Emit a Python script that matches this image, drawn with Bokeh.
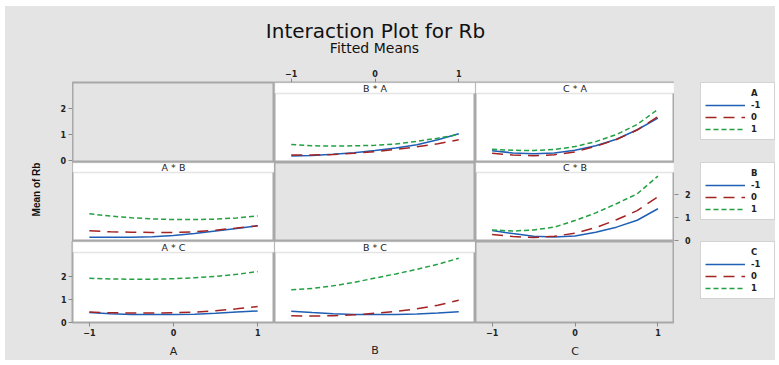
import math
from bokeh.plotting import figure
from bokeh.layouts import row, column
from bokeh.models import (Range1d, LinearAxis, FixedTicker, BoxAnnotation, Label,
                          Legend, LegendItem)
from bokeh.embed import file_html
from bokeh.resources import INLINE

# ---------------- data (fitted means) ----------------
x_levels = [-1, -0.75, -0.5, -0.25, 0, 0.25, 0.5, 0.75, 1]
level_labels = ["-1", "0", "1"]
x_ticks = [-1, 0, 1]
y_ticks = [0, 1, 2]

# B * A  (x = B, traces = levels of A)
ba_a_neg1 = [0.18, 0.20, 0.25, 0.31, 0.39, 0.49, 0.61, 0.80, 1.03]
ba_a_0 = [0.22, 0.22, 0.24, 0.29, 0.35, 0.44, 0.53, 0.65, 0.80]
ba_a_pos1 = [0.62, 0.57, 0.56, 0.57, 0.59, 0.64, 0.74, 0.86, 1.00]

# C * A  (x = C, traces = A)
ca_a_neg1 = [0.38, 0.30, 0.27, 0.30, 0.40, 0.57, 0.82, 1.18, 1.62]
ca_a_0 = [0.29, 0.22, 0.19, 0.23, 0.34, 0.55, 0.81, 1.17, 1.68]
ca_a_pos1 = [0.44, 0.40, 0.39, 0.43, 0.54, 0.73, 1.00, 1.38, 1.96]

# A * B  (x = A, traces = B)
ab_b_neg1 = [0.14, 0.14, 0.14, 0.16, 0.22, 0.30, 0.41, 0.52, 0.64]
ab_b_0 = [0.42, 0.38, 0.36, 0.35, 0.35, 0.38, 0.45, 0.54, 0.64]
ab_b_pos1 = [1.16, 1.06, 0.99, 0.94, 0.91, 0.91, 0.93, 0.98, 1.07]

# C * B  (x = C, traces = B)
cb_b_neg1 = [0.43, 0.30, 0.18, 0.15, 0.20, 0.36, 0.58, 0.88, 1.38]
cb_b_0 = [0.26, 0.17, 0.13, 0.18, 0.32, 0.56, 0.90, 1.30, 1.90]
cb_b_pos1 = [0.46, 0.41, 0.46, 0.58, 0.87, 1.20, 1.60, 2.03, 2.80]

# A * C  (x = A, traces = C)
ac_c_neg1 = [0.42, 0.37, 0.34, 0.33, 0.33, 0.35, 0.39, 0.44, 0.49]
ac_c_0 = [0.44, 0.41, 0.40, 0.40, 0.41, 0.44, 0.50, 0.58, 0.68]
ac_c_pos1 = [1.91, 1.88, 1.87, 1.87, 1.89, 1.93, 1.99, 2.08, 2.20]

# B * C  (x = B, traces = C)
bc_c_neg1 = [0.48, 0.42, 0.37, 0.34, 0.33, 0.34, 0.36, 0.40, 0.45]
bc_c_0 = [0.28, 0.27, 0.28, 0.32, 0.39, 0.47, 0.58, 0.74, 0.95]
bc_c_pos1 = [1.41, 1.47, 1.58, 1.73, 1.92, 2.10, 2.30, 2.52, 2.78]

# ---------------- styling / layout ----------------
GRAY = "#e4e4e4"
EDGE = "#a8a8a8"
INK = "#222222"
COLORS = ["#1f5fb5", "#a52222", "#23a043"]
DASHES = ["solid", "11 7", "5 3"]
XR = (-1.2, 1.2)
COL_W = [202, 201, 199]
ROW_H = [80, 79, 81]
TOP = 18      # room above row 1 for the top axis
BOT = 38      # room below row 3 for the bottom axes
LEFT = 17     # room left of column 1 for tick labels
# pixel scale of each panel row (value 0 position inside the frame, px per unit)
ROW_ZERO = [78.3, 78.0, 80.7]   # px from frame top down to value 0
ROW_PX = [26.3, 23.0, 23.0]
ROW_STRIP_PX = [11, 10, 11]     # strip height


def row_range(r):
    top = ROW_ZERO[r] / ROW_PX[r]
    bot = -(ROW_H[r] - ROW_ZERO[r]) / ROW_PX[r]
    strip_y = (ROW_ZERO[r] - ROW_STRIP_PX[r]) / ROW_PX[r]
    return (bot, top), strip_y


def bare(p):
    p.background_fill_color = GRAY
    p.border_fill_color = GRAY
    p.outline_line_color = None
    p.xgrid.grid_line_color = None
    p.ygrid.grid_line_color = None


def base(width, height, xr, yr, **borders):
    kw = dict(min_border=0)
    kw.update(borders)
    p = figure(width=width, height=height, x_range=Range1d(*xr), y_range=Range1d(*yr),
               title=None, x_axis_location=None, y_axis_location=None,
               toolbar_location=None, output_backend="svg", **kw)
    bare(p)
    return p


def panel(c, r, white=True, left=0, top=0, bottom=0):
    yr, _ = row_range(r)
    p = base(COL_W[c] + left, ROW_H[r] + top + bottom, XR, yr,
             min_border_left=left, min_border_top=top, min_border_bottom=bottom)
    p.background_fill_color = "white" if white else GRAY
    p.outline_line_color = EDGE
    p.outline_line_width = 2
    return p


def strip(p, r, text):
    yr, ys = row_range(r)
    p.add_layout(BoxAnnotation(left=XR[0], right=XR[1], bottom=ys, top=yr[1],
                               fill_color="white", fill_alpha=1.0,
                               line_color=EDGE, line_width=1.5))
    p.add_layout(Label(x=0, y=(ys + yr[1]) / 2, text=text, text_align="center",
                       text_baseline="middle", text_font_size="9.5px",
                       text_font="DejaVu Sans", text_color=INK))


def axis(p, side, ticks, label=None, label_standoff=6, tick_out=4, tick_in=0,
         standoff=2):
    ax = LinearAxis(ticker=FixedTicker(ticks=ticks), axis_line_color=None,
                    major_tick_line_color="#8a8a8a", major_tick_in=tick_in,
                    major_tick_out=tick_out, minor_tick_line_color=None,
                    major_label_text_font_size="8px",
                    major_label_text_font_style="bold",
                    major_label_text_font="DejaVu Sans",
                    major_label_text_color=INK, major_label_standoff=standoff)
    if label is not None:
        ax.axis_label = label
        ax.axis_label_text_font_size = "11px"
        ax.axis_label_text_font_style = "normal"
        ax.axis_label_text_font = "DejaVu Sans"
        ax.axis_label_text_color = INK
        ax.axis_label_standoff = label_standoff
    p.add_layout(ax, side)


def traces(p, series):
    for vals, col, dash in zip(series, COLORS, DASHES):
        p.line(x_levels, vals, line_color=col, line_width=1.5, line_dash=dash)


def legend_fig(r, title, top=0, bottom=0):
    p = base(76, ROW_H[r] + top + bottom, (0, 1), (0, 1), min_border_left=1,
             min_border_top=top, min_border_bottom=bottom)
    nan = float("nan")
    head = p.line([nan], [nan], line_alpha=0)
    rs = [p.line([nan], [nan], line_color=c, line_width=1.5, line_dash=d)
          for c, d in zip(COLORS, DASHES)]
    items = [LegendItem(label=title, renderers=[head])]
    items += [LegendItem(label=l, renderers=[rr]) for l, rr in zip(level_labels, rs)]
    leg = Legend(items=items, location="top_left", margin=0, padding=4, spacing=0,
                 glyph_width=40, glyph_height=12, label_height=12, label_width=19,
                 label_standoff=6, border_line_color=EDGE, border_line_width=1.5,
                 background_fill_color="white", background_fill_alpha=1.0,
                 label_text_font_size="8.5px", label_text_font_style="bold",
                 label_text_font="DejaVu Sans", label_text_color=INK)
    p.add_layout(leg)
    return p


# ---- row 1
p11 = panel(0, 0, white=False, top=TOP)
p12 = panel(1, 0, top=TOP)
strip(p12, 0, "B * A")
traces(p12, [ba_a_neg1, ba_a_0, ba_a_pos1])
axis(p12, "above", x_ticks)
p13 = panel(2, 0, top=TOP)
strip(p13, 0, "C * A")
traces(p13, [ca_a_neg1, ca_a_0, ca_a_pos1])

# ---- row 2
p21 = panel(0, 1)
strip(p21, 1, "A * B")
traces(p21, [ab_b_neg1, ab_b_0, ab_b_pos1])
p22 = panel(1, 1, white=False)
p23 = panel(2, 1)
strip(p23, 1, "C * B")
traces(p23, [cb_b_neg1, cb_b_0, cb_b_pos1])

# ---- row 3
p31 = panel(0, 2, left=LEFT, bottom=BOT)
strip(p31, 2, "A * C")
traces(p31, [ac_c_neg1, ac_c_0, ac_c_pos1])
axis(p31, "left", y_ticks)
axis(p31, "below", x_ticks, label="A")
p32 = panel(1, 2, bottom=BOT)
strip(p32, 2, "B * C")
traces(p32, [bc_c_neg1, bc_c_0, bc_c_pos1])
axis(p32, "below", [], label="B", label_standoff=21, tick_out=0)
p33 = panel(2, 2, white=False, bottom=BOT)
axis(p33, "below", x_ticks, label="C")

# ---- left side for rows 1-2: response label and the row-1 value axis
h12 = ROW_H[0] + TOP + ROW_H[1]
z1 = TOP + ROW_ZERO[0]
side12 = base(50 + LEFT, h12, (0, 50),
              (-(h12 - z1) / ROW_PX[0], z1 / ROW_PX[0]), min_border_right=LEFT)
# ticks sit against the panel edge, labels just left of them
axis(side12, "right", y_ticks, tick_out=LEFT, tick_in=-(LEFT - 4), standoff=-12)
side12.add_layout(Label(x=31, y=(z1 - 125) / ROW_PX[0], text="Mean of Rb",
                        angle=math.pi / 2, text_align="center",
                        text_baseline="middle", text_font_size="10px",
                        text_font="Liberation Sans", text_font_style="bold",
                        text_color="#111111"))
side3 = base(50, ROW_H[2] + BOT, (0, 1), (0, 1))

# ---- right side: value axis of row 2 (C * B)
hall = h12 + ROW_H[2] + BOT
z2 = TOP + ROW_H[0] + ROW_ZERO[1]
axfig = base(25, hall, (0, 1), (-(hall - z2) / ROW_PX[1], z2 / ROW_PX[1]),
             min_border_left=24)
axis(axfig, "left", y_ticks, tick_out=24, tick_in=-20, standoff=-16)

legA = legend_fig(0, "A", top=TOP)
legB = legend_fig(1, "B")
legC = legend_fig(2, "C", bottom=BOT)

# ---- header with titles
hdr = base(770, 58, (0, 770), (0, 58))
hdr.add_layout(Label(x=370, y=34, text="Interaction Plot for Rb", text_align="center",
                     text_baseline="middle", text_font_size="20px",
                     text_font="DejaVu Sans", text_color="#111111"))
hdr.add_layout(Label(x=369, y=17, text="Fitted Means", text_align="center",
                     text_baseline="middle", text_font_size="14px",
                     text_font="DejaVu Sans", text_color="#111111"))

left_block = column(row(side12, column(row(p11, p12, p13), row(p21, p22, p23))),
                    row(side3, p31, p32, p33))
body = row(left_block, axfig, column(legA, legB, legC))
layout = column(hdr, body, margin=(6, 4, 5, 5),
                styles={"background-color": GRAY})

open("out.html", "w").write(file_html(layout, INLINE))
